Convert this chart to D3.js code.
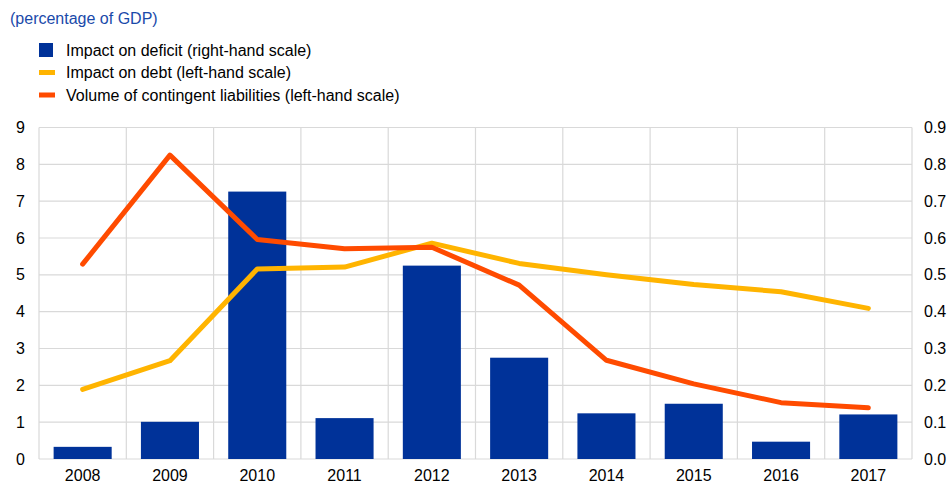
<!DOCTYPE html>
<html>
<head>
<meta charset="utf-8">
<script src="https://cdn.jsdelivr.net/npm/d3@7"></script>
<style>
  body { margin: 0; background: #fff; }
  svg text { font-family: "Liberation Sans", Arial, sans-serif; }
</style>
</head>
<body>
<svg id="chart" width="949" height="495"></svg>
<script>
// Fiscal impact of financial sector support, per year
const years = ["2008","2009","2010","2011","2012","2013","2014","2015","2016","2017"];
const deficitImpact = [0.033, 0.101, 0.726, 0.111, 0.525, 0.275, 0.124, 0.150, 0.047, 0.121]; // right-hand scale
const debtImpact = [1.89, 2.67, 5.16, 5.21, 5.86, 5.31, 5.00, 4.74, 4.54, 4.09];              // left-hand scale
const contingentLiabilities = [5.29, 8.25, 5.96, 5.71, 5.75, 4.72, 2.68, 2.04, 1.53, 1.39];  // left-hand scale
const leftTicks = [0,1,2,3,4,5,6,7,8,9];
const rightTicks = [0,0.1,0.2,0.3,0.4,0.5,0.6,0.7,0.8,0.9];

const legendItems = [
  { label: "Impact on deficit (right-hand scale)", color: "#003299", kind: "bar" },
  { label: "Impact on debt (left-hand scale)", color: "#FFB400", kind: "line" },
  { label: "Volume of contingent liabilities (left-hand scale)", color: "#FF4B00", kind: "line" }
];

const FONT = "16px";
const svg = d3.select("#chart");
const plot = { left: 39, right: 912, top: 127.5, bottom: 459 };

const x = d3.scaleBand().domain(years).range([plot.left, plot.right]).paddingInner(0.335).paddingOuter(0.1675);
const xGrid = d3.scaleBand().domain(years).range([plot.left, plot.right]);
const yL = d3.scaleLinear().domain([0, 9]).range([plot.bottom, plot.top]);
const yR = d3.scaleLinear().domain([0, 0.9]).range([plot.bottom, plot.top]);

// Title
svg.append("text").attr("x", 10).attr("y", 24).attr("fill", "#1A4AAA")
  .style("font-size", FONT).text("(percentage of GDP)");

// Legend
const leg = svg.append("g");
legendItems.forEach((d, i) => {
  const cy = 50 + i * 22.5;
  if (d.kind === "bar") {
    leg.append("rect").attr("x", 39).attr("y", cy - 7).attr("width", 14).attr("height", 14).attr("fill", d.color);
  } else {
    leg.append("rect").attr("x", 39).attr("y", cy - 2.5).attr("width", 16).attr("height", 5).attr("fill", d.color);
  }
  leg.append("text").attr("x", 66).attr("y", cy + 5.5).attr("fill", "#000")
    .style("font-size", FONT).text(d.label);
});

// Gridlines
const grid = svg.append("g").attr("stroke", "#d9d9d9").attr("stroke-width", 1.2);
leftTicks.forEach(t => {
  grid.append("line").attr("x1", plot.left).attr("x2", plot.right).attr("y1", yL(t)).attr("y2", yL(t));
});
years.forEach(yr => {
  const xx = xGrid(yr);
  grid.append("line").attr("x1", xx).attr("x2", xx).attr("y1", plot.top).attr("y2", plot.bottom);
});
grid.append("line").attr("x1", plot.right).attr("x2", plot.right).attr("y1", plot.top).attr("y2", plot.bottom);

// Bars (right-hand scale)
svg.append("g").selectAll("rect").data(years).join("rect")
  .attr("x", d => x(d))
  .attr("width", x.bandwidth())
  .attr("y", (d, i) => yR(deficitImpact[i]))
  .attr("height", (d, i) => yR(0) - yR(deficitImpact[i]))
  .attr("fill", "#003299");

// Lines (left-hand scale)
const line = d3.line().x((d, i) => xGrid(years[i]) + xGrid.bandwidth() / 2).y(d => yL(d));
svg.append("path").datum(debtImpact).attr("d", line).attr("fill", "none")
  .attr("stroke", "#FFB400").attr("stroke-width", 5).attr("stroke-linejoin", "round").attr("stroke-linecap", "round");
svg.append("path").datum(contingentLiabilities).attr("d", line).attr("fill", "none")
  .attr("stroke", "#FF4B00").attr("stroke-width", 5).attr("stroke-linejoin", "round").attr("stroke-linecap", "round");

// Axes
const axisL = d3.axisLeft(yL).tickValues(leftTicks).tickSize(0).tickPadding(14).tickFormat(d3.format("d"));
const gL = svg.append("g").attr("transform", `translate(${plot.left},0)`).call(axisL);
const axisR = d3.axisRight(yR).tickValues(rightTicks).tickSize(0).tickPadding(12).tickFormat(d3.format(".1f"));
const gR = svg.append("g").attr("transform", `translate(${plot.right},0)`).call(axisR);
const axisB = d3.axisBottom(xGrid).tickSize(0).tickPadding(11);
const gB = svg.append("g").attr("transform", `translate(0,${plot.bottom})`).call(axisB);
[gL, gR, gB].forEach(g => {
  g.select(".domain").remove();
  g.selectAll("text").style("font-size", FONT).attr("fill", "#000")
    .style("font-family", "'Liberation Sans', Arial, sans-serif");
});
gB.selectAll("text").attr("dy", "0.71em");
</script>
</body>
</html>
